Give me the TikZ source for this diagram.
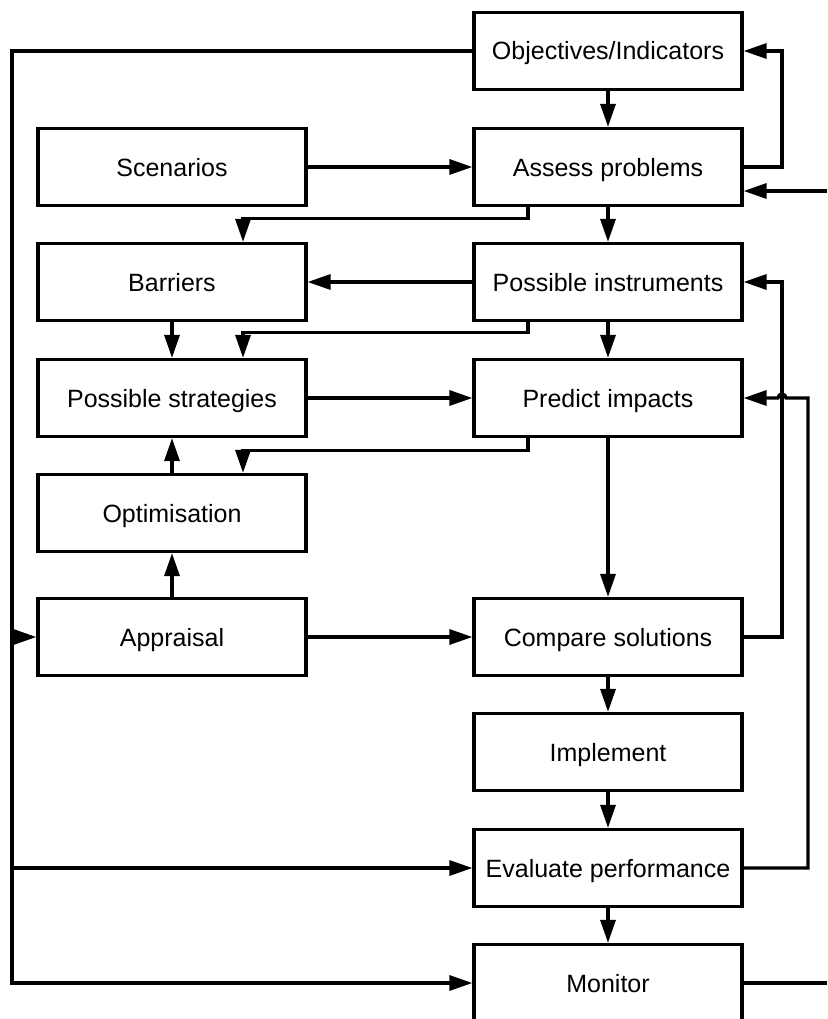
\documentclass[tikz,border=0pt]{standalone}
\usepackage{fontspec}
\setmainfont{Liberation Sans}
\usetikzlibrary{arrows.meta,calc}
\begin{document}
\begin{tikzpicture}[x=1pt,y=-1pt,
  box/.style={draw,line width=3.2pt,minimum width=268pt,minimum height=77pt,inner sep=0pt,text height=18pt,text depth=0pt,font=\fontsize{25}{29}\selectfont},
  conn/.style={line width=3.2pt},
  arr/.style={conn,-{Triangle[length=23pt,width=15pt]}}]
\useasboundingbox (0,0) rectangle (827,1019);
\begin{scope}
\clip (0,0) rectangle (827,1019);
\node[box] (obj) at (608,51) {Objectives/Indicators};
\node[box] (scen) at (172,167) {Scenarios};
\node[box] (assess) at (608,167) {Assess problems};
\node[box] (barr) at (172,282) {Barriers};
\node[box] (inst) at (608,282) {Possible instruments};
\node[box] (strat) at (172,398) {Possible strategies};
\node[box] (pred) at (608,398) {Predict impacts};
\node[box] (opt) at (172,513) {Optimisation};
\node[box] (appr) at (172,637) {Appraisal};
\node[box] (comp) at (608,637) {Compare solutions};
\node[box] (impl) at (608,752) {Implement};
\node[box] (eval) at (608,868) {Evaluate performance};
\node[box] (mon) at (608,983) {Monitor};

\coordinate (L) at (12,0);
\coordinate (R1) at (782,0);
\coordinate (R2) at (808,0);
\coordinate (E) at (827,0);
\coordinate (bx) at (528,0);
\coordinate (tx) at (243,0);
\coordinate (ext) at (827,191);

% left feedback line
\draw[arr] (obj.west) -- (obj.west -| L) -- (mon.west -| L) -- (mon.west);
\draw[arr] (appr.west -| L) -- (appr.west);
\draw[arr] (eval.west -| L) -- (eval.west);

\draw[arr] (obj.south) -- (assess.north);
\draw[arr] (assess.east) -- (assess.east -| R1) -- (obj.east -| R1) -- (obj.east);
\draw[arr] (ext) -- (ext -| assess.east);
\draw[arr] (scen) -- (assess);
\draw[arr] (assess.south) -- (inst.north);
\draw[arr] (assess.south -| bx) -- ++(0,11) -| (barr.north -| tx);
\draw[arr] (inst) -- (barr);
\draw[arr] (barr.south) -- (strat.north);
\draw[arr] (inst.south -| bx) -- ++(0,10) -| (strat.north -| tx);
\draw[arr] (inst.south) -- (pred.north);
\draw[arr] (strat) -- (pred);
\draw[arr] (pred.south -| bx) -- ++(0,12) -| (opt.north -| tx);
\draw[arr] (opt.north) -- (strat.south);
\draw[arr] (appr.north) -- (opt.south);
\draw[arr] (appr) -- (comp);
\draw[arr] (pred.south) -- (comp.north);
\draw[arr] (comp.east) -- (comp.east -| R1) -- (inst.east -| R1) -- (inst.east);
\draw[arr] (eval.east) -- (eval.east -| R2) -- (pred.east -| R2)
  -- ($(pred.east -| R1)+(4,0)$) arc[start angle=0,end angle=180,radius=4pt] -- (pred.east);
\draw[arr] (comp.south) -- (impl.north);
\draw[arr] (impl.south) -- (eval.north);
\draw[arr] (eval.south) -- (mon.north);
\draw[conn] (mon.east) -- (mon.east -| E);
\end{scope}
\end{tikzpicture}
\end{document}
